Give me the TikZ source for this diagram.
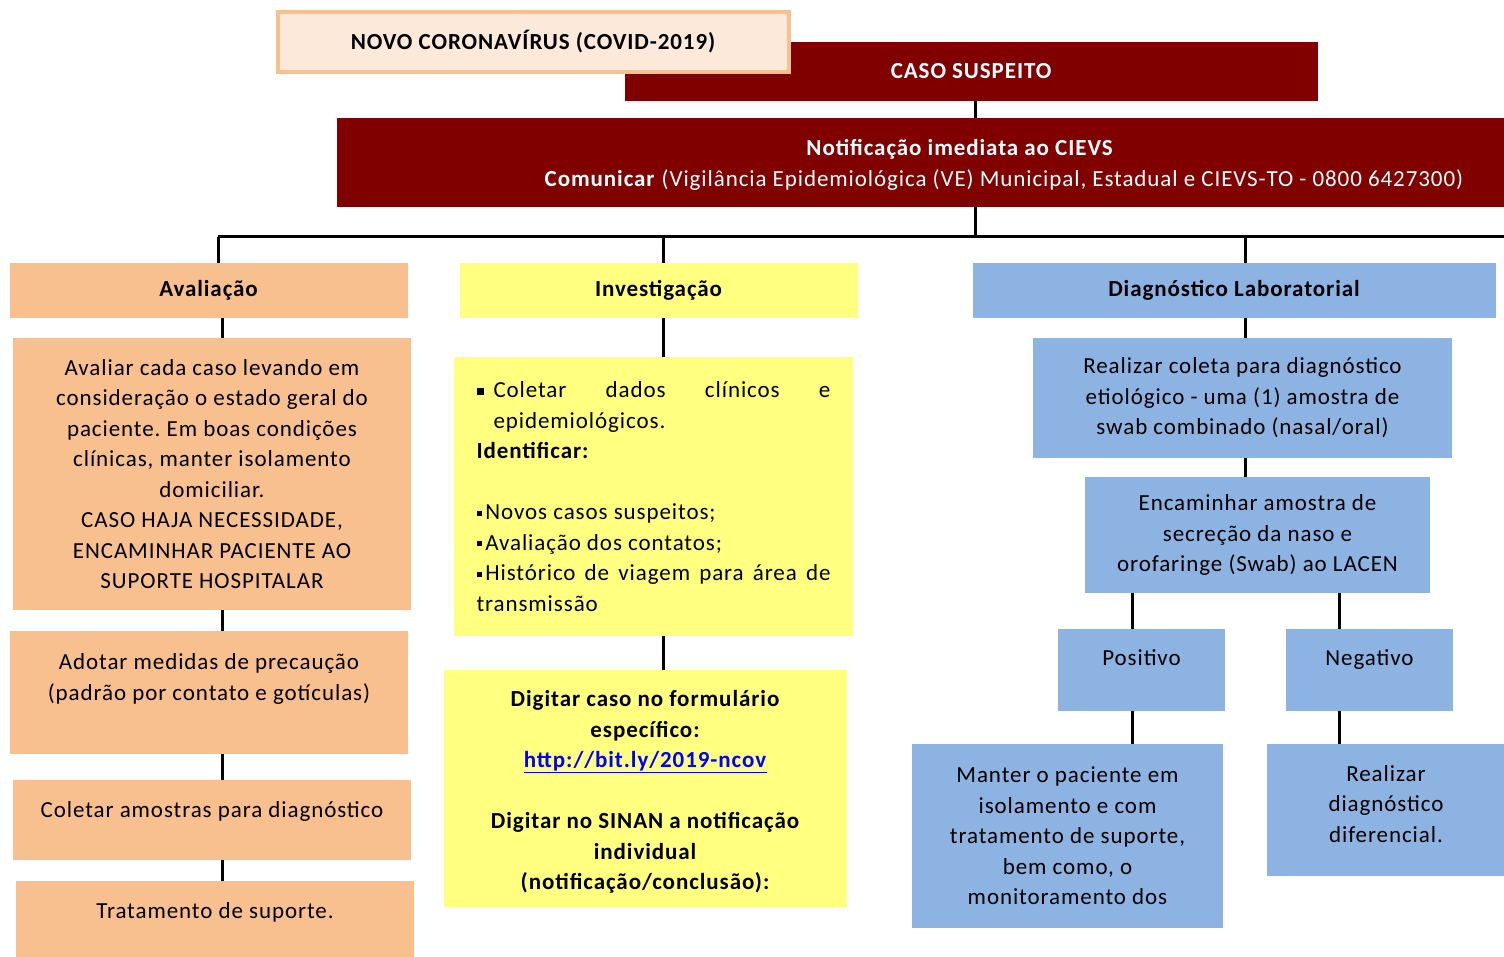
\documentclass[tikz,border=0pt]{standalone}
\usepackage{fontspec}
\setmainfont{Carlito}[LetterSpace=4]
\frenchspacing
\definecolor{vinho}{HTML}{800000}
\definecolor{laranja}{HTML}{F9C08F}
\definecolor{pele}{HTML}{FDE9D9}
\definecolor{amarelo}{HTML}{FFFF80}
\definecolor{azul}{HTML}{8DB3E2}
\definecolor{linkazul}{HTML}{0000FF}
\newcommand{\bolinha}{\rule[4pt]{5pt}{5pt}}

\begin{document}
\begin{tikzpicture}[x=1pt,y=-1pt,
  caixa/.style={inner sep=0pt, align=center, font=\fontsize{23}{30.5}\selectfont},
  laranjabox/.style={caixa, fill=laranja},
  amarelobox/.style={caixa, fill=amarelo},
  azulbox/.style={caixa, fill=azul},
  vinhobox/.style={caixa, fill=vinho, text=white},
  conn/.style={line width=3pt, black}]

\useasboundingbox (0,0) rectangle (1504,957);

% topo
\node[vinhobox, minimum width=693pt, minimum height=59pt] (caso) at (971.5,71.5) {\textbf{CASO SUSPEITO}};
\node[caixa, fill=pele, draw=laranja, line width=4pt, minimum width=511pt, minimum height=60pt] (titulo) at (533.5,42) {\textbf{NOVO CORONAVÍRUS (COVID-2019)}};
\node[vinhobox, minimum width=1167pt, minimum height=89pt] (notif) at (920.5,162.5) {};
\node[caixa, text=white] (notiftxt) at (960,165) {\textbf{Notificação imediata ao CIEVS}\\\hspace*{88pt}\textbf{Comunicar} (Vigilância Epidemiológica (VE) Municipal, Estadual e CIEVS-TO - 0800 6427300)};

% coluna 1
\node[laranjabox, minimum width=398pt, minimum height=55pt] (aval) at (209,290.5) {\textbf{Avaliação}};
\node[laranjabox, minimum width=398pt, minimum height=272pt] (avaliar) at (212,474) {Avaliar cada caso levando em\\consideração o estado geral do\\paciente. Em boas condições\\clínicas, manter isolamento\\domiciliar.\\CASO HAJA NECESSIDADE,\\ENCAMINHAR PACIENTE AO\\SUPORTE HOSPITALAR};
\node[laranjabox, minimum width=398pt, minimum height=123pt] (adotar) at (209,692.5) {Adotar medidas de precaução\\(padrão por contato e gotículas)\\~};
\node[laranjabox, minimum width=398pt, minimum height=80pt] (coletar) at (212,820) {Coletar amostras para diagnóstico\\[-10.5pt]~};
\node[laranjabox, minimum width=398pt, minimum height=89pt] (trat) at (215,925.5) {Tratamento de suporte.\\~};

% coluna 2
\node[amarelobox, minimum width=398pt, minimum height=55pt] (invest) at (659,290.5) {\textbf{Investigação}};
\node[amarelobox, minimum width=399pt, minimum height=279pt, text width=354pt, align=justify] (dados) at (653.5,496.5) {\parindent=0pt
\noindent\hangindent=17pt\hangafter=1\makebox[17pt][l]{\rule[3pt]{7pt}{7pt}}Coletar dados clínicos e\linebreak epidemiológicos.\par
\textbf{Identificar:}\par
\mbox{}\par
\bolinha\,Novos casos suspeitos;\par
\bolinha\,Avaliação dos contatos;\par
\bolinha\,Histórico de viagem para área de\linebreak transmissão\par};
\node[amarelobox, minimum width=403pt, minimum height=237pt] (digitar) at (645.5,788.5) {~\\[-7.5pt]\textbf{Digitar caso no formulário}\\\textbf{específico:}\\\textcolor{linkazul}{\underline{\textbf{http://bit.ly/2019-ncov}}}\\~\\\textbf{Digitar no SINAN a notificação}\\\textbf{individual}\\\textbf{(notificação/conclusão):}};

% coluna 3
\node[azulbox, minimum width=523pt, minimum height=55pt] (diag) at (1234.5,290.5) {\textbf{Diagnóstico Laboratorial}};
\node[azulbox, minimum width=419pt, minimum height=120pt] (coleta) at (1242.5,398) {Realizar coleta para diagnóstico\\etiológico - uma (1) amostra de\\swab combinado (nasal/oral)};
\node[azulbox, minimum width=345pt, minimum height=116pt] (encam) at (1257.5,535) {Encaminhar amostra de\\secreção da naso e\\orofaringe (Swab) ao LACEN};
\node[azulbox, minimum width=167pt, minimum height=82pt] (pos) at (1141.5,670) {Positivo\\[-6.5pt]~};
\node[azulbox, minimum width=167pt, minimum height=82pt] (neg) at (1369.5,670) {Negativo\\[-6.5pt]~};
\node[azulbox, minimum width=311pt, minimum height=184pt] (manter) at (1067.5,836) {Manter o paciente em\\isolamento e com\\tratamento de suporte,\\bem como, o\\monitoramento dos};
\node[azulbox, minimum width=238pt, minimum height=132pt] (realizar) at (1386,810) {Realizar\\diagnóstico\\diferencial.\\[-18.5pt]~};

% ligacoes
\coordinate (hub) at (975,237);
\coordinate (hubL) at (218,237);
\coordinate (hubR) at (1504,237);
\coordinate (c1) at (222,0);
\coordinate (c2) at (663,0);
\coordinate (c3) at (1245,0);
\coordinate (c3a) at (1132,0);
\coordinate (c3b) at (1339,0);

\draw[conn] (caso.south -| hub) -- (notif.north -| hub);
\draw[conn] (notif.south -| hub) -- (hub);
\draw[conn] (hubL) -- (hubR);
\draw[conn] (hubL) -- (hubL |- aval.north);
\draw[conn] (hub -| c2) -- (invest.north -| c2);
\draw[conn] (hub -| c3) -- (diag.north -| c3);

\draw[conn] (aval.south -| c1) -- (avaliar.north -| c1);
\draw[conn] (avaliar.south -| c1) -- (adotar.north -| c1);
\draw[conn] (adotar.south -| c1) -- (coletar.north -| c1);
\draw[conn] (coletar.south -| c1) -- (trat.north -| c1);

\draw[conn] (invest.south -| c2) -- (dados.north -| c2);
\draw[conn] (dados.south -| c2) -- (digitar.north -| c2);

\draw[conn] (diag.south -| c3) -- (coleta.north -| c3);
\draw[conn] (coleta.south -| c3) -- (encam.north -| c3);
\draw[conn] (encam.south -| c3a) -- (pos.north -| c3a);
\draw[conn] (encam.south -| c3b) -- (neg.north -| c3b);
\draw[conn] (pos.south -| c3a) -- (manter.north -| c3a);
\draw[conn] (neg.south -| c3b) -- (realizar.north -| c3b);

\end{tikzpicture}
\end{document}
